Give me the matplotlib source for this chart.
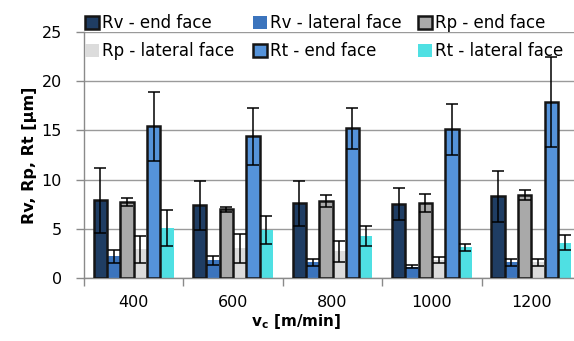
import numpy as np
import matplotlib.pyplot as plt
from matplotlib.ticker import FixedLocator

# cutting speed groups
speeds = ["400", "600", "800", "1000", "1200"]

# mean values [um]
rv_end = [7.9, 7.4, 7.6, 7.5, 8.3]
rv_lat = [2.2, 1.8, 1.6, 1.15, 1.6]
rp_end = [7.7, 7.0, 7.8, 7.6, 8.4]
rp_lat = [2.9, 3.0, 2.7, 1.8, 1.6]
rt_end = [15.4, 14.4, 15.2, 15.1, 17.9]
rt_lat = [5.1, 4.9, 4.3, 3.1, 3.6]

# standard deviations [um]
rv_end_err = [3.3, 2.5, 2.3, 1.6, 2.6]
rv_lat_err = [0.65, 0.45, 0.35, 0.15, 0.35]
rp_end_err = [0.4, 0.25, 0.6, 0.9, 0.5]
rp_lat_err = [1.4, 1.5, 1.05, 0.3, 0.35]
rt_end_err = [3.5, 2.9, 2.05, 2.6, 4.6]
rt_lat_err = [1.85, 1.45, 1.0, 0.4, 0.8]

labels = ["Rv - end face", "Rv - lateral face", "Rp - end face",
          "Rp - lateral face", "Rt - end face", "Rt - lateral face"]
values = [rv_end, rv_lat, rp_end, rp_lat, rt_end, rt_lat]
errors = [rv_end_err, rv_lat_err, rp_end_err, rp_lat_err, rt_end_err, rt_lat_err]
colors = ["#1f3d63", "#3b74bd", "#a9a9a9", "#dcdcdc", "#5593da", "#4fe0e3"]
edges = [True, False, True, False, True, False]

fig = plt.figure(figsize=(5.74, 3.41), dpi=100)
ax = fig.add_axes([84 / 574, 1 - 278 / 341, 497 / 574, 246 / 341])

x = np.arange(len(speeds))
w = 0.134
handles = []
for i in range(6):
    pos = x + (i - 2.5) * w
    if edges[i]:
        b = ax.bar(pos, values[i], w, color=colors[i], edgecolor="#151515",
                   linewidth=1.8, zorder=3 + i % 2)
    else:
        b = ax.bar(pos, values[i], w, color=colors[i], linewidth=0, zorder=2)
    ax.errorbar(pos, values[i], yerr=errors[i], fmt="none", ecolor="black",
                elinewidth=1.1, capsize=4, capthick=1.1, zorder=6)
    handles.append(b)

ax.set_xlim(-0.5, 4.5)
ax.set_ylim(0, 25)
ax.set_yticks([0, 5, 10, 15, 20, 25])
ax.yaxis.grid(True, color="#9a9a9a", linewidth=1)
ax.set_axisbelow(True)
ax.set_xticks(x)
ax.set_xticklabels(speeds, fontsize=11.5)
ax.xaxis.set_minor_locator(FixedLocator(np.arange(-0.5, 5, 1)))
ax.tick_params(axis="x", which="major", length=0, pad=12)
ax.tick_params(axis="x", which="minor", length=6, color="#8a8a8a", width=1)
ax.tick_params(axis="y", labelsize=11.5, length=6, color="#8a8a8a", width=1, pad=10)
for s in ["top", "right"]:
    ax.spines[s].set_visible(False)
for s in ["left", "bottom"]:
    ax.spines[s].set_color("#8a8a8a")
    ax.spines[s].set_linewidth(1)

ax.set_ylabel("Rv, Rp, Rt [µm]", fontsize=11.5, fontweight="bold", labelpad=3)
ax.set_xlabel(r"v$_\mathbf{c}$ [m/min]", fontsize=11, fontweight="bold", labelpad=1)
ax.xaxis.set_label_coords((296 - 84) / 497, -0.14)

# legend: three fixed-width columns, filled row by row
col_x = [80, 248, 413]
for c in range(3):
    leg = fig.legend([handles[c], handles[c + 3]], [labels[c], labels[c + 3]],
                     loc="upper left", bbox_to_anchor=(col_x[c] / 574, 1 - 9 / 341),
                     frameon=False, fontsize=12, handlelength=0.85, handleheight=0.8,
                     handletextpad=0.15, labelspacing=0.62, borderaxespad=0.2,
                     borderpad=0.1)

fig.savefig("out.png", dpi=100)
